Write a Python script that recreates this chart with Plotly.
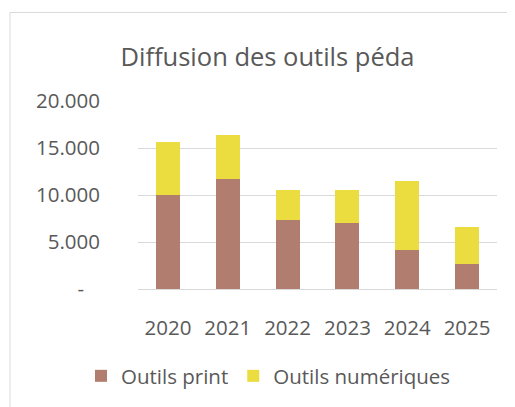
import plotly.graph_objects as go

years = ["2020", "2021", "2022", "2023", "2024", "2025"]
print_vals = [10050, 11740, 7350, 7030, 4150, 2710]
num_vals = [5590, 4640, 3230, 3480, 7380, 3860]
tick_vals = [0, 5000, 10000, 15000, 20000]
NB = "\u00a0"
tick_text = ["-" + NB * 3, "5.000", "10.000", "15.000", "20.000"]

FONT = "Open Sans"
GREY = "#595959"

W, H = 507, 399          # page body has an 8px margin
L, R, T, B = 130, 18, 93, 117
PW, PH = W - L - R, H - T - B

fig = go.Figure()
fig.add_trace(go.Bar(x=years, y=print_vals, name="Outils print", marker_color="#B07D6E",
                     marker_line_width=0))
fig.add_trace(go.Bar(x=years, y=num_vals, name="Outils numériques", marker_color="#EBDC40",
                     marker_line_width=0))

fig.update_layout(
    barmode="stack",
    bargap=0.6,
    width=W, height=H,
    margin=dict(l=L, r=R, t=T, b=B, pad=0),
    paper_bgcolor="white", plot_bgcolor="white",
    font=dict(family=FONT, color=GREY, size=20.5),
    title=dict(text="Diffusion des outils péda", x=259.5 / W, xanchor="center",
               y=1 - 49 / H, yanchor="middle",
               font=dict(family=FONT, size=25.5, color=GREY)),
    legend=dict(orientation="h", x=(73 - L) / PW, xanchor="left",
                y=(PH - 368 + T) / PH, yanchor="middle", traceorder="normal",
                font=dict(family=FONT, size=20.5, color=GREY), itemwidth=30),
    showlegend=True,
)
fig.update_yaxes(range=[0, 20000], tickvals=tick_vals, ticktext=tick_text,
                 showgrid=True, gridcolor="#D9D9D9", gridwidth=1,
                 zeroline=False, showline=False, ticks="", ticklabelstandoff=37)
fig.update_xaxes(showline=True, linecolor="#D9D9D9", linewidth=1, ticks="", showgrid=False,
                 ticklabelstandoff=20)

fig.add_shape(type="rect", xref="paper", yref="paper",
              x0=(2 - L) / PW, x1=(W + 60 - L) / PW,
              y0=-(B + 60) / PH, y1=(PH + T - 4) / PH,
              line=dict(color="#D9D9D9", width=1), fillcolor="rgba(0,0,0,0)", layer="below")

fig.write_html("out.html")
